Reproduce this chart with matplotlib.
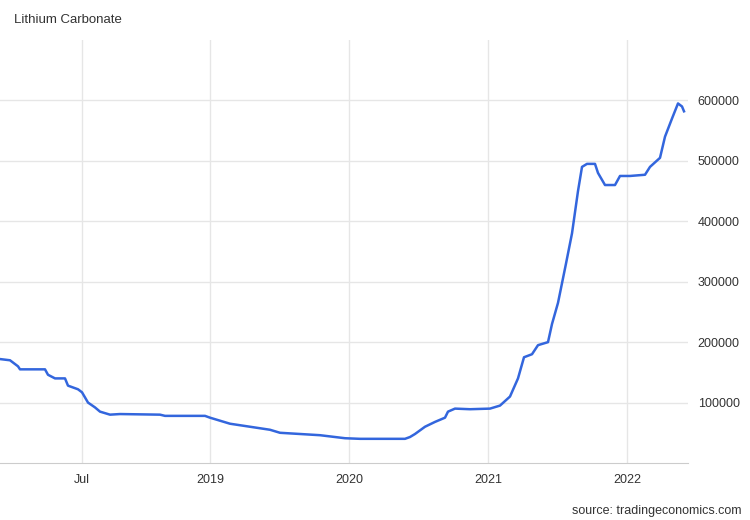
import matplotlib
matplotlib.use("Agg")
import matplotlib.pyplot as plt
plt.rcParams['font.family'] = ['Liberation Sans', 'DejaVu Sans']

px = [0,10,18,20,45,48,55,65,68,78,82,88,95,100,110,120,160,165,205,210,230,250,270,280,320,345,360,405,410,415,425,435,445,448,455,470,490,500,510,518,524,532,538,548,552,558,566,572,578,582,587,595,598,605,615,620,630,645,650,660,665,672,678,682,684]
values = [172e3,170e3,160e3,155e3,155e3,146e3,140e3,140e3,128e3,122e3,117e3,100e3,92e3,85e3,80e3,81e3,80e3,78e3,78e3,75e3,65e3,60e3,55e3,50e3,46e3,41e3,40e3,40e3,43e3,48e3,60e3,68e3,75e3,85e3,90e3,89e3,90e3,95e3,110e3,140e3,175e3,180e3,195e3,200e3,230e3,265e3,330e3,380e3,450e3,490e3,495e3,495e3,480e3,460e3,460e3,475e3,475e3,477e3,490e3,505e3,540e3,570e3,595e3,590e3,582e3]
years = [2019 + (p - 210) / 139 for p in px]
tick_pos = [2019 + (82 - 210) / 139, 2019, 2020, 2021, 2022]
tick_labels = ["Jul", "2019", "2020", "2021", "2022"]

fig = plt.figure(figsize=(7.5, 5.2), dpi=100)
ax = fig.add_axes([0, 57/520, 688/750, 423/520])
ax.plot(years, values, color="#3366dd", lw=1.8)
ax.set_xlim(2019 - 210/139, 2019 + (688-210)/139)
ax.set_ylim(0, 700000)
ax.yaxis.tick_right()
ax.set_yticks([100000,200000,300000,400000,500000,600000])
ax.set_yticklabels(["100000","200000","300000","400000","500000","600000"])
ax.set_xticks(tick_pos)
ax.set_xticklabels(tick_labels)
ax.tick_params(length=0, labelsize=9, colors="#333333", pad=8)
ax.tick_params(axis='y', pad=7)
ax.grid(True, color="#e6e6e6", lw=1)
for s in ["top", "left", "right"]:
    ax.spines[s].set_visible(False)
ax.spines["bottom"].set_color("#cccccc")
fig.text(14/750, 1-20/520, "Lithium Carbonate", fontsize=9.5, color="#333333", va="center")
fig.text(741/750, 1-511/520, "source: tradingeconomics.com", fontsize=9, color="#333333", ha="right", va="center")
fig.savefig("out.png")
